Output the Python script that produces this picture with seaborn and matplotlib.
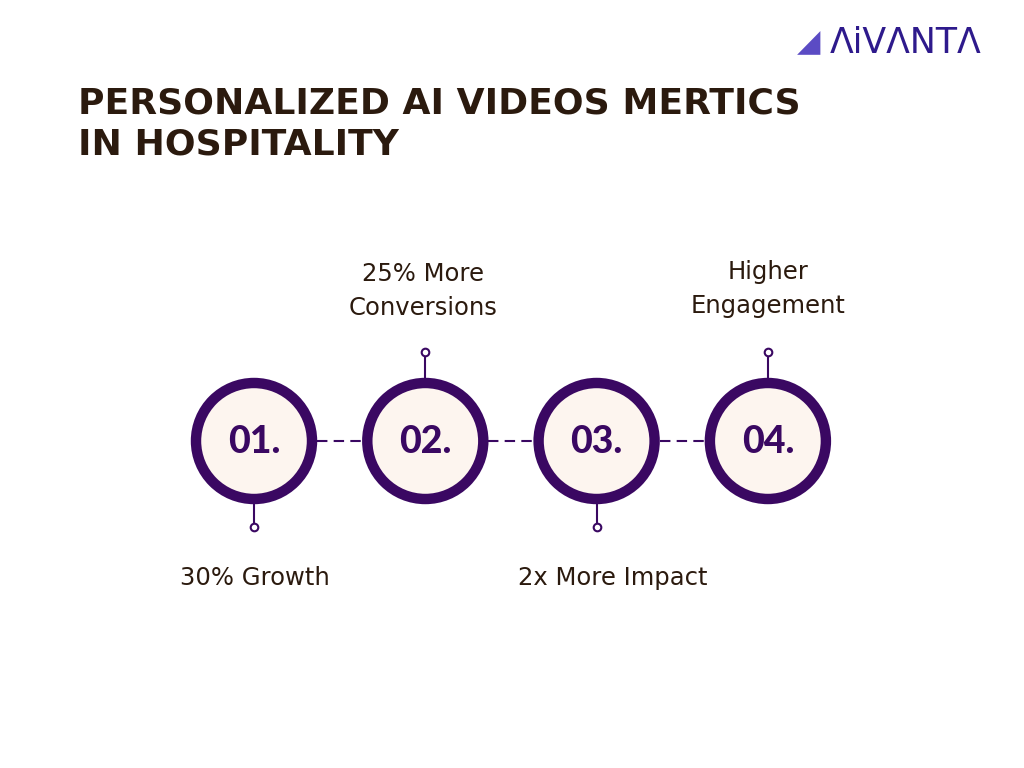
import matplotlib
matplotlib.use("Agg")
import matplotlib.pyplot as plt
import seaborn as sns
import pandas as pd
from matplotlib.patches import Circle

sns.set_theme(style="white")

# data
steps = ["01.", "02.", "03.", "04."]
labels = ["30% Growth", "25% More\nConversions", "2x More Impact", "Higher\nEngagement"]
label_side = ["below", "above", "below", "above"]
title = "PERSONALIZED AI VIDEOS MERTICS\nIN HOSPITALITY"

PURPLE = "#3A0862"
FILL = "#FDF5EF"
TEXT = "#2B1A0E"

fig = plt.figure(figsize=(10.24, 7.68), dpi=100)
ax = fig.add_axes([0, 0, 1, 1])

xs = [254 + i * 171.3 for i in range(len(steps))]
cy = 441
r = 58

# dashed connectors
for a, b in zip(xs[:-1], xs[1:]):
    ax.plot([a + r + 5, b - r - 5], [cy, cy], color=PURPLE, lw=1.5, ls=(0, (5, 3)), zorder=1)

for x, s, side in zip(xs, steps, label_side):
    ax.add_patch(Circle((x, cy), r, facecolor=FILL, edgecolor=PURPLE, lw=7.5, zorder=2))
    ax.text(x, cy + 1, s, ha="center", va="center", fontsize=27, fontweight="black",
            color=PURPLE, family="Lato", zorder=3)
    if side == "below":
        ax.plot([x, x], [cy + r + 4, 524], color=PURPLE, lw=1.5, zorder=1)
    else:
        ax.plot([x, x], [cy - r - 4, 355], color=PURPLE, lw=1.5, zorder=1)

pins = pd.DataFrame({"x": xs, "y": [527, 352, 527, 352]})
sns.scatterplot(data=pins, x="x", y="y", ax=ax, s=30, color="white",
                edgecolor=PURPLE, linewidth=1.5, zorder=4, legend=False)
ax.set_xlim(0, 1024)
ax.set_ylim(768, 0)
ax.axis("off")

label_pos = [(255, 578), (423, 291), (613, 578), (768, 289)]
for (lx, ly), lab in zip(label_pos, labels):
    ax.text(lx, ly, lab, ha="center", va="center", fontsize=17.5, color=TEXT,
            family="DejaVu Sans", linespacing=1.55)

ax.text(78, 124, title, ha="left", va="center", fontsize=26, fontweight="bold",
        color=TEXT, family="DejaVu Sans", linespacing=1.25)

# logo
ax.text(797, 43, "◢", ha="left", va="center", fontsize=22, color="#5B4BC4")
ax.text(830, 43, "ΛiVΛNTΛ", ha="left", va="center", fontsize=25, color="#2E1A8C",
        family="DejaVu Sans")

fig.savefig("out.png", dpi=100)
